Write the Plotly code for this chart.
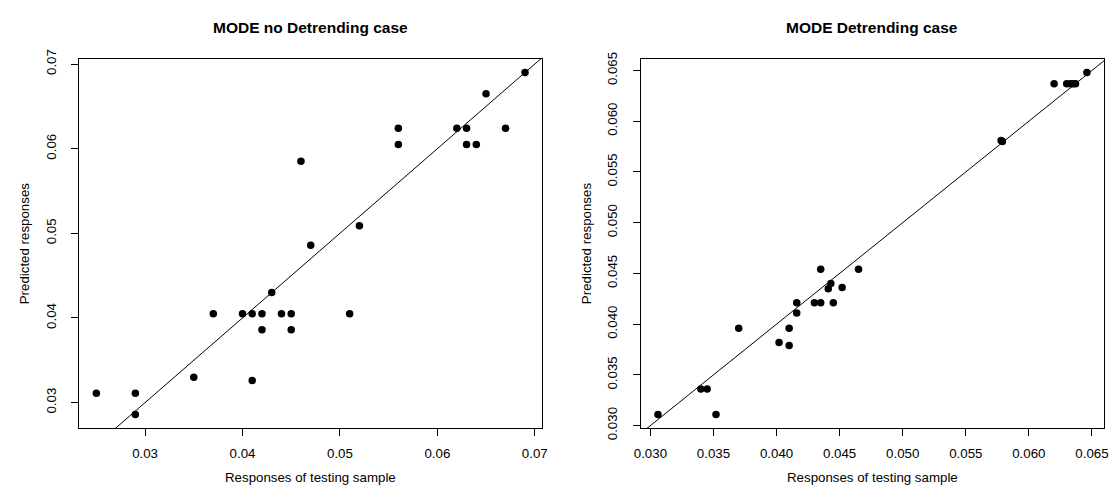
import plotly.graph_objects as go

# Left panel: MODE no Detrending case
obs_nodetrend = [0.069, 0.065, 0.056, 0.062, 0.063, 0.067, 0.056, 0.063, 0.064,
                 0.046, 0.052, 0.047, 0.043, 0.037, 0.040, 0.041, 0.042, 0.044,
                 0.045, 0.051, 0.042, 0.045, 0.035, 0.041, 0.025, 0.029, 0.029]
pred_nodetrend = [0.0690, 0.0665, 0.0624, 0.0624, 0.0624, 0.0624, 0.0605, 0.0605, 0.0605,
                  0.0585, 0.0509, 0.0486, 0.0430, 0.0405, 0.0405, 0.0405, 0.0405, 0.0405,
                  0.0405, 0.0405, 0.0386, 0.0386, 0.0330, 0.0326, 0.0311, 0.0311, 0.0286]

# Right panel: MODE Detrending case
obs_detrend = [0.0646, 0.0620, 0.0630, 0.0633, 0.0635, 0.0637, 0.0578, 0.0579,
               0.0306, 0.0340, 0.0345, 0.0352, 0.0370, 0.0402, 0.0410, 0.0410,
               0.0416, 0.0416, 0.0430, 0.0435, 0.0435, 0.0445, 0.0441, 0.0443,
               0.0452, 0.0465]
pred_detrend = [0.0648, 0.0637, 0.0637, 0.0637, 0.0637, 0.0637, 0.0581, 0.0580,
                0.0311, 0.0336, 0.0336, 0.0311, 0.0396, 0.0382, 0.0396, 0.0379,
                0.0421, 0.0411, 0.0421, 0.0421, 0.0454, 0.0421, 0.0435, 0.0440,
                0.0436, 0.0454]

x_ticks_left = [0.03, 0.04, 0.05, 0.06, 0.07]
x_ticklabels_left = ["0.03", "0.04", "0.05", "0.06", "0.07"]
y_ticks_left = [0.03, 0.04, 0.05, 0.06, 0.07]
y_ticklabels_left = ["0.03", "0.04", "0.05", "0.06", "0.07"]
ticks_right = [0.030, 0.035, 0.040, 0.045, 0.050, 0.055, 0.060, 0.065]
ticklabels_right = ["0.030", "0.035", "0.040", "0.045", "0.050", "0.055", "0.060", "0.065"]

titles = ["MODE no Detrending case", "MODE Detrending case"]
xlabel = "Responses of testing sample"
ylabel = "Predicted responses"


def rrange(v):
    lo, hi = min(v), max(v)
    pad = 0.04 * (hi - lo)
    return [lo - pad, hi + pad]


W, H = 1114, 500
FONT = "Liberation Sans, Arial, Helvetica, sans-serif"

xr1, yr1 = rrange(obs_nodetrend), rrange(pred_nodetrend)
xr2, yr2 = rrange(obs_detrend), rrange(pred_detrend)

dom_x1 = [73 / W, 541 / W]
dom_x2 = [640.7 / W, 1109 / W]
dom_y = [1 - 437.5 / H, 1 - 52 / H]

fig = go.Figure()

for obs, pred, xa, ya, xr, yr in [
    (obs_nodetrend, pred_nodetrend, "x", "y", xr1, yr1),
    (obs_detrend, pred_detrend, "x2", "y2", xr2, yr2),
]:
    lo = min(xr[0], yr[0])
    hi = max(xr[1], yr[1])
    fig.add_trace(go.Scatter(x=[lo, hi], y=[lo, hi], mode="lines",
                             line=dict(color="black", width=1),
                             xaxis=xa, yaxis=ya, hoverinfo="skip", showlegend=False))
    fig.add_trace(go.Scatter(x=obs, y=pred, mode="markers",
                             marker=dict(color="black", size=7.5, line=dict(width=0)),
                             xaxis=xa, yaxis=ya, showlegend=False))

axis_common = dict(showline=True, mirror=True, linecolor="black", linewidth=1,
                   showgrid=False, zeroline=False, ticks="outside", ticklen=7,
                   tickwidth=1, tickcolor="black",
                   tickfont=dict(family=FONT, size=13.3, color="black"))

XSO, YSO = 6, 10
fig.update_layout(
    width=W, height=H,
    margin=dict(l=0, r=0, t=0, b=0),
    paper_bgcolor="white", plot_bgcolor="white",
    showlegend=False,
    xaxis=dict(domain=dom_x1, range=xr1, anchor="y", tickvals=x_ticks_left,
               ticktext=x_ticklabels_left, ticklabelstandoff=XSO, **axis_common),
    yaxis=dict(domain=dom_y, range=yr1, anchor="x", tickvals=y_ticks_left,
               ticktext=y_ticklabels_left, tickangle=-90, ticklabelstandoff=YSO, **axis_common),
    xaxis2=dict(domain=dom_x2, range=xr2, anchor="y2", tickvals=ticks_right,
                ticktext=ticklabels_right, ticklabelstandoff=XSO, **axis_common),
    yaxis2=dict(domain=dom_y, range=yr2, anchor="x2", tickvals=ticks_right,
                ticktext=ticklabels_right, tickangle=-90, ticklabelstandoff=YSO, **axis_common),
)

annotations = []
for dx, t in zip([dom_x1, dom_x2], titles):
    cx = (dx[0] + dx[1]) / 2
    annotations.append(dict(text="<b>" + t + "</b>", x=cx, y=1 - 19.5 / H,
                            xref="paper", yref="paper", showarrow=False,
                            xanchor="center", yanchor="middle",
                            font=dict(family=FONT, size=15.5, color="black")))
    annotations.append(dict(text=xlabel, x=cx, y=1 - 489 / H,
                            xref="paper", yref="paper", showarrow=False,
                            xanchor="center", yanchor="middle",
                            font=dict(family=FONT, size=13.3, color="black")))
for xpix in [18, 586]:
    annotations.append(dict(text=ylabel, x=xpix / W, y=(dom_y[0] + dom_y[1]) / 2,
                            xref="paper", yref="paper", showarrow=False, textangle=-90,
                            xanchor="center", yanchor="middle",
                            font=dict(family=FONT, size=13.3, color="black")))
fig.update_layout(annotations=annotations)

fig.write_html("out.html")
